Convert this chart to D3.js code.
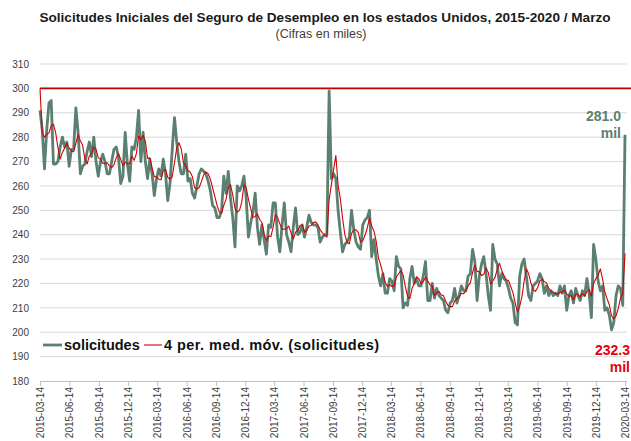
<!DOCTYPE html>
<html>
<head>
<meta charset="utf-8">
<script src="https://cdn.jsdelivr.net/npm/d3@7"></script>
<style>
  html, body { margin: 0; padding: 0; background: #fff; }
  svg { display: block; }
</style>
</head>
<body>
<svg id="chart" width="631" height="441"></svg>
<script>
// ---------- DATA ----------
const startDate = "2015-03-14";           // first weekly observation (Saturday)
const solicitudes = [
  291,283,267,283,294,295,269,269,270,276,280,276,278,268,275,275,292,282,265,268,
  269,274,278,272,280,270,264,270,273,270,265,265,270,275,276,272,261,264,282,269,
  262,276,275,280,291,270,282,270,263,271,265,256,263,267,264,271,265,254,261,275,
  288,278,270,265,265,273,262,263,257,255,260,265,267,266,265,262,258,252,251,247,
  247,250,264,257,266,255,247,235,260,258,260,264,255,239,245,249,257,243,236,244,
  238,232,244,243,253,253,239,233,244,253,240,237,233,243,251,240,241,244,239,243,
  248,245,244,244,243,237,239,240,240,299,263,265,263,250,241,233,236,237,239,250,
  242,237,235,234,244,246,247,250,231,238,230,223,219,224,216,216,222,221,217,231,
  227,226,210,212,211,222,227,220,222,219,219,223,229,213,213,220,214,218,215,214,
  213,209,208,212,213,218,212,215,219,217,217,223,224,234,229,213,223,228,231,224,
  215,209,236,230,228,219,224,222,221,218,214,212,204,203,223,228,230,223,215,213,
  219,220,221,224,222,216,219,215,217,215,216,215,219,216,219,209,215,217,212,218,
  215,213,217,215,222,216,206,236,230,221,217,219,209,210,207,201,204,215,219,218,
  211,281
];
// early moving-average values (weeks before a full 4-week window in this data)
const maLead = [300, 282, 280];
const maWindow = 4;
const referenceLevel = 300;
const yTicks = [180,190,200,210,220,230,240,250,260,270,280,290,300,310];
const xTickLabels = [
  "2015-03-14","2015-06-14","2015-09-14","2015-12-14",
  "2016-03-14","2016-06-14","2016-09-14","2016-12-14",
  "2017-03-14","2017-06-14","2017-09-14","2017-12-14",
  "2018-03-14","2018-06-14","2018-09-14","2018-12-14",
  "2019-03-14","2019-06-14","2019-09-14","2019-12-14","2020-03-14"
];
const seriesNames = ["solicitudes", "4 per. med. móv. (solicitudes)"];
const titleText = "Solicitudes Iniciales del Seguro de Desempleo en los estados Unidos, 2015-2020 / Marzo";
const subtitleText = "(Cifras en miles)";

// ---------- BUILD ----------
(function () {
const parse = d3.utcParse("%Y-%m-%d");
const t0 = parse(startDate);
const weekly = solicitudes.map((v, i) => ({ date: d3.utcDay.offset(t0, 7 * i), value: v }));
const ma = weekly.map((d, i) => {
  let v;
  if (i < maWindow - 1) v = maLead[i];
  else v = d3.mean(solicitudes.slice(i - maWindow + 1, i + 1));
  return { date: d.date, value: v };
});

const svg = d3.select("#chart");
const pL = 40, pR = 625, pT = 64, pB = 381;

const x = d3.scaleUtc()
  .domain([weekly[0].date, weekly[weekly.length - 1].date])
  .range([pL, pR]);
const y = d3.scaleLinear().domain([180, 310]).range([pB, pT]);

const font = "'Liberation Sans', Arial, sans-serif";

// gridlines
svg.append("g")
  .selectAll("line")
  .data(yTicks.filter(t => t > 180))
  .join("line")
  .attr("x1", pL).attr("x2", pR + 2)
  .attr("y1", d => y(d)).attr("y2", d => y(d))
  .attr("stroke", "#d9d9d9").attr("stroke-width", 1);

// y axis labels
const yAxis = d3.axisLeft(y).tickValues(yTicks).tickSize(0).tickPadding(11);
const gy = svg.append("g").attr("transform", `translate(${pL},0)`).call(yAxis);
gy.select(".domain").remove();
gy.selectAll("text").attr("font-family", font).attr("font-size", 10).attr("fill", "#404040");

// x axis
const xTickDates = xTickLabels.map(parse);
const xAxis = d3.axisBottom(x).tickValues(xTickDates).tickSize(5)
  .tickFormat(d3.utcFormat("%Y-%m-%d"));
const gx = svg.append("g").attr("transform", `translate(0,${pB})`).call(xAxis);
gx.select(".domain").attr("stroke", "#bfbfbf").attr("d", `M${pL},0.5H${pR + 2}`);
gx.selectAll(".tick line").attr("stroke", "#bfbfbf");
gx.selectAll("text")
  .attr("font-family", font).attr("font-size", 10).attr("fill", "#404040")
  .attr("text-anchor", "end")
  .attr("transform", "rotate(-90)")
  .attr("x", -6).attr("y", 0).attr("dy", "0.35em");

// reference line at 300
svg.append("line")
  .attr("x1", x(weekly[0].date)).attr("x2", 631)
  .attr("y1", y(referenceLevel)).attr("y2", y(referenceLevel))
  .attr("stroke", "#c00000").attr("stroke-width", 1.6);

// solicitudes line
const line = d3.line().x(d => x(d.date)).y(d => y(d.value)).curve(d3.curveLinear);
svg.append("path").datum(weekly)
  .attr("d", line)
  .attr("fill", "none").attr("stroke", "#5b7f70").attr("stroke-width", 2.8)
  .attr("stroke-linejoin", "round");

// moving average line
svg.append("path").datum(ma)
  .attr("d", line)
  .attr("fill", "none").attr("stroke", "#d00000").attr("stroke-width", 1.1)
  .attr("stroke-linejoin", "round");

// title
svg.append("text").attr("x", 325).attr("y", 22).attr("text-anchor", "middle")
  .attr("font-family", font).attr("font-weight", "bold").attr("font-size", 13.6)
  .attr("fill", "#1a1a1a").text(titleText);
svg.append("text").attr("x", 321).attr("y", 38).attr("text-anchor", "middle")
  .attr("font-family", font).attr("font-size", 12.5)
  .attr("fill", "#404040").text(subtitleText);

// legend
const lg = svg.append("g").attr("font-family", font).attr("font-weight", "bold")
  .attr("font-size", 14.5).attr("fill", "#111");
lg.append("line").attr("x1", 43).attr("x2", 62).attr("y1", 345).attr("y2", 345)
  .attr("stroke", "#5b7f70").attr("stroke-width", 2.8);
lg.append("text").attr("x", 64).attr("y", 350).text(seriesNames[0]);
lg.append("line").attr("x1", 144).attr("x2", 162).attr("y1", 345).attr("y2", 345)
  .attr("stroke", "#d00000").attr("stroke-width", 1.1);
lg.append("text").attr("x", 164).attr("y", 350).attr("letter-spacing", 0.45).text(seriesNames[1]);

// end annotations
const fmt = d3.format(".1f");
const lastS = weekly[weekly.length - 1].value;
const lastM = ma[ma.length - 1].value;
const a1 = svg.append("text").attr("text-anchor", "end").attr("font-family", font)
  .attr("font-weight", "bold").attr("font-size", 14).attr("fill", "#5b7f70");
a1.append("tspan").attr("x", 621).attr("y", 121).text(fmt(lastS));
a1.append("tspan").attr("x", 621).attr("y", 138).text("mil");
const a2 = svg.append("text").attr("text-anchor", "end").attr("font-family", font)
  .attr("font-weight", "bold").attr("font-size", 14).attr("fill", "#e8000b");
a2.append("tspan").attr("x", 630).attr("y", 355).text(fmt(lastM));
a2.append("tspan").attr("x", 630).attr("y", 372).text("mil");
})();
</script>
</body>
</html>
